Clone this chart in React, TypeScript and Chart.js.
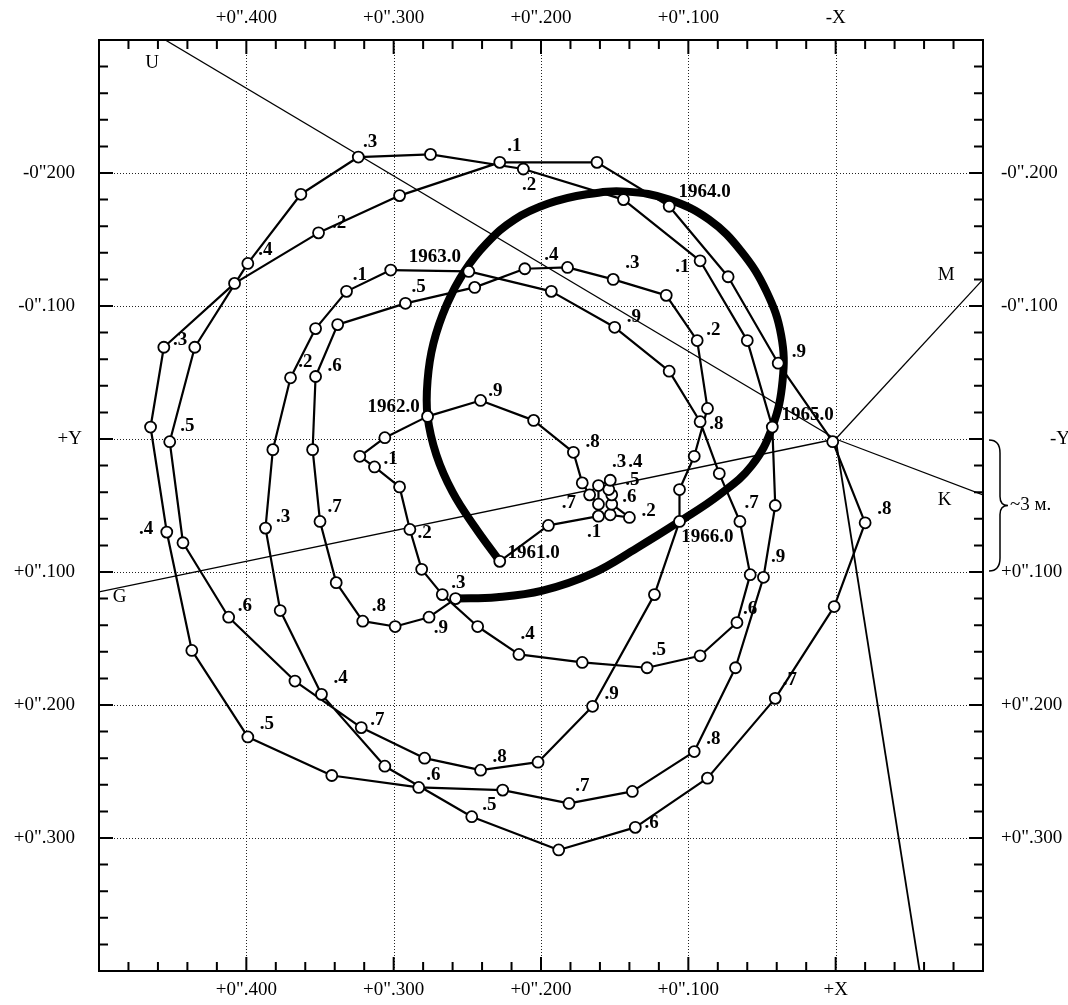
import React, { useEffect, useRef } from "react";
import { Chart, registerables } from "chart.js";

Chart.register(...registerables);

type P = [number, number];

// Pole path, one array per year (x, y in arcseconds), points about every 0.05 year
const track1961: P[] = [
  [0.228, 0.092], [0.195, 0.065], [0.161, 0.058], [0.153, 0.057], [0.140, 0.059], [0.152, 0.049],
  [0.152, 0.042], [0.154, 0.038], [0.153, 0.031], [0.161, 0.035], [0.161, 0.049], [0.167, 0.042],
  [0.172, 0.033], [0.178, 0.010], [0.205, -0.014], [0.241, -0.029],
];
const track1962: P[] = [
  [0.277, -0.017], [0.306, -0.001], [0.323, 0.013], [0.313, 0.021], [0.296, 0.036], [0.289, 0.068],
  [0.281, 0.098], [0.267, 0.117], [0.243, 0.141], [0.215, 0.162], [0.172, 0.168], [0.128, 0.172],
  [0.092, 0.163], [0.067, 0.138], [0.058, 0.102], [0.065, 0.062], [0.079, 0.026], [0.092, -0.013],
  [0.113, -0.051], [0.150, -0.084], [0.193, -0.111],
];
const track1963: P[] = [
  [0.249, -0.126], [0.302, -0.127], [0.332, -0.111], [0.353, -0.083], [0.370, -0.046], [0.382, 0.008],
  [0.387, 0.067], [0.377, 0.129], [0.349, 0.192], [0.306, 0.246], [0.247, 0.284], [0.188, 0.309],
  [0.136, 0.292], [0.087, 0.255], [0.041, 0.195], [0.001, 0.126], [-0.020, 0.063], [0.002, 0.002],
  [0.039, -0.057], [0.073, -0.122],
];
const track1964: P[] = [
  [0.113, -0.175], [0.162, -0.208], [0.228, -0.208], [0.296, -0.183], [0.351, -0.155], [0.408, -0.117],
  [0.456, -0.069], [0.465, -0.009], [0.454, 0.070], [0.437, 0.159], [0.399, 0.224], [0.342, 0.253],
  [0.283, 0.262], [0.226, 0.264], [0.181, 0.274], [0.138, 0.265], [0.096, 0.235], [0.068, 0.172],
  [0.049, 0.104], [0.041, 0.050],
];
const track1965: P[] = [
  [0.043, -0.009], [0.060, -0.074], [0.092, -0.134], [0.144, -0.180], [0.212, -0.203], [0.275, -0.214],
  [0.324, -0.212], [0.363, -0.184], [0.399, -0.132], [0.435, -0.069], [0.452, 0.002], [0.443, 0.078],
  [0.412, 0.134], [0.367, 0.182], [0.322, 0.217], [0.279, 0.240], [0.241, 0.249], [0.202, 0.243],
  [0.165, 0.201], [0.123, 0.117],
];
const track1966: P[] = [
  [0.106, 0.062], [0.106, 0.038], [0.096, 0.013], [0.087, -0.023], [0.094, -0.074], [0.115, -0.108],
  [0.151, -0.120], [0.182, -0.129], [0.211, -0.128], [0.245, -0.114], [0.292, -0.102], [0.338, -0.086],
  [0.353, -0.047], [0.355, 0.008], [0.350, 0.062], [0.339, 0.108], [0.321, 0.137], [0.299, 0.141],
  [0.276, 0.134], [0.258, 0.120],
];

// Smoothed (thick) curve through the yearly positions 1961.0 ... 1967.0
const thickCurve: P[] = [
  [0.228, 0.092], [0.245, 0.066], [0.260, 0.040], [0.271, 0.012], [0.277, -0.017], [0.277, -0.044],
  [0.273, -0.072], [0.264, -0.101], [0.252, -0.126], [0.237, -0.147], [0.218, -0.165], [0.195, -0.177],
  [0.169, -0.184], [0.142, -0.186], [0.113, -0.180], [0.086, -0.165], [0.064, -0.141], [0.047, -0.111],
  [0.037, -0.078], [0.036, -0.044], [0.043, -0.009], [0.057, 0.020], [0.079, 0.042], [0.106, 0.062],
  [0.135, 0.082], [0.165, 0.101], [0.199, 0.114], [0.230, 0.119], [0.258, 0.120],
];

// Station directions from the origin
const origin: P = [0, 0];
const lineU: P = [0.455, -0.3];
const lineM: P = [-0.1, -0.12];
const lineK: P = [-0.1, 0.042];
const lineG: P = [0.5, 0.115];
const lineC: P = [-0.057, 0.4];

// Axis ticks and labels
const xTicks = [0.4, 0.3, 0.2, 0.1, 0];
const xTopLabels = ['+0".400', '+0".300', '+0".200', '+0".100', "-X"];
const xBottomLabels = ['+0".400', '+0".300', '+0".200', '+0".100', "+X"];
const yTicks = [-0.2, -0.1, 0, 0.1, 0.2, 0.3];
const yLeftLabels = ['-0"200', '-0".100', "+Y", '+0".100', '+0".200', '+0".300'];
const yRightLabels = ['-0".200', '-0".100', "-Y", '+0".100', '+0".200', '+0".300'];

// Epoch labels: text, x, y (label centre in arcseconds)
const pointLabels: [string, number, number][] = [
  ["1961.0", 0.205, 0.086], [".1", 0.164, 0.07], [".2", 0.127, 0.054], [".3", 0.147, 0.017], [".4", 0.136, 0.017],
  [".5", 0.138, 0.031], [".6", 0.14, 0.044], [".7", 0.181, 0.048], [".8", 0.165, 0.002], [".9", 0.231, -0.036],
  ["1962.0", 0.3, -0.024], [".1", 0.302, 0.015], [".2", 0.279, 0.071], [".3", 0.256, 0.108], [".4", 0.209, 0.147],
  [".5", 0.12, 0.159], [".6", 0.058, 0.128], [".7", 0.057, 0.048], [".8", 0.081, -0.011], [".9", 0.137, -0.092],
  ["1963.0", 0.272, -0.137], [".1", 0.323, -0.123], [".2", 0.36, -0.058], [".3", 0.375, 0.059], [".4", 0.336, 0.18],
  [".5", 0.235, 0.275], [".6", 0.125, 0.289], [".7", 0.031, 0.181], [".8", -0.033, 0.053], [".9", 0.025, -0.065],
  ["1964.0", 0.089, -0.186], [".1", 0.218, -0.22], [".2", 0.337, -0.162], [".3", 0.445, -0.074], [".4", 0.468, 0.068],
  [".5", 0.386, 0.214], [".6", 0.273, 0.253], [".7", 0.172, 0.261], [".8", 0.083, 0.226], [".9", 0.039, 0.089],
  ["1965.0", 0.019, -0.018], [".1", 0.104, -0.129], [".2", 0.208, -0.191], [".3", 0.316, -0.223], [".4", 0.387, -0.142],
  [".5", 0.44, -0.01], [".6", 0.401, 0.126], [".7", 0.311, 0.211], [".8", 0.228, 0.239], [".9", 0.152, 0.192],
  ["1966.0", 0.087, 0.074], [".2", 0.083, -0.082], [".3", 0.138, -0.132], [".4", 0.193, -0.138], [".5", 0.283, -0.114],
  [".6", 0.34, -0.055], [".7", 0.34, 0.051], [".8", 0.31, 0.126], [".9", 0.268, 0.142],
];
const stationLabels: [string, number, number][] = [
  ["U", 0.464, -0.283], ["M", -0.075, -0.123], ["K", -0.074, 0.046], ["G", 0.486, 0.119],
];
const braceText = "~3 м.";

const toXY = (pts: P[]) => pts.map(([x, y]) => ({ x, y }));

const SERIF = '"Liberation Serif", "Times New Roman", serif';

const framePlugin = {
  id: "framePlugin",
  beforeDatasetsDraw(chart: any) {
    const { ctx, chartArea: a, scales } = chart;
    const xs = scales.x;
    const ys = scales.y;
    ctx.save();
    ctx.strokeStyle = "#222";
    ctx.lineWidth = 1;
    ctx.setLineDash([1, 2]);
    for (const v of xTicks) {
      const px = Math.round(xs.getPixelForValue(v)) + 0.5;
      ctx.beginPath();
      ctx.moveTo(px, a.top);
      ctx.lineTo(px, a.bottom);
      ctx.stroke();
    }
    for (const v of yTicks) {
      const py = Math.round(ys.getPixelForValue(v)) + 0.5;
      ctx.beginPath();
      ctx.moveTo(a.left, py);
      ctx.lineTo(a.right, py);
      ctx.stroke();
    }
    ctx.restore();
  },
  afterDatasetsDraw(chart: any) {
    const { ctx, chartArea: a, scales } = chart;
    const xs = scales.x;
    const ys = scales.y;
    ctx.save();
    ctx.strokeStyle = "#000";
    ctx.lineWidth = 2;
    ctx.setLineDash([]);
    ctx.strokeRect(a.left, a.top, a.right - a.left, a.bottom - a.top);
    const minor = 9;
    const major = 14;
    for (let k = Math.round(xs.min / 0.02) + 1; k < Math.round(xs.max / 0.02); k++) {
      const len = k % 5 === 0 ? major : minor;
      const px = xs.getPixelForValue(k * 0.02);
      ctx.beginPath();
      ctx.moveTo(px, a.top);
      ctx.lineTo(px, a.top + len);
      ctx.moveTo(px, a.bottom);
      ctx.lineTo(px, a.bottom - len);
      ctx.stroke();
    }
    for (let k = Math.round(ys.min / 0.02) + 1; k < Math.round(ys.max / 0.02); k++) {
      const len = k % 5 === 0 ? major : minor;
      const py = ys.getPixelForValue(k * 0.02);
      ctx.beginPath();
      ctx.moveTo(a.left, py);
      ctx.lineTo(a.left + len, py);
      ctx.moveTo(a.right, py);
      ctx.lineTo(a.right - len, py);
      ctx.stroke();
    }

    // axis labels
    ctx.fillStyle = "#000";
    ctx.font = `19px ${SERIF}`;
    ctx.textBaseline = "middle";
    ctx.textAlign = "center";
    xTicks.forEach((v, i) => {
      const px = xs.getPixelForValue(v);
      ctx.fillText(xTopLabels[i], px, a.top - 22);
      ctx.fillText(xBottomLabels[i], px, a.bottom + 19);
    });
    yTicks.forEach((v, i) => {
      const py = ys.getPixelForValue(v);
      ctx.textAlign = "right";
      ctx.fillText(yLeftLabels[i], v === 0 ? a.left - 17 : a.left - 24, py);
      ctx.textAlign = "left";
      ctx.fillText(yRightLabels[i], v === 0 ? a.right + 67 : a.right + 18, py);
    });

    // brace between 0 and +0.100 on the right
    const y0 = ys.getPixelForValue(0);
    const y1 = ys.getPixelForValue(0.1);
    const mid = (y0 + y1) / 2;
    const x0 = a.right + 6;
    const x1 = a.right + 17;
    const tip = a.right + 25;
    ctx.lineWidth = 1.5;
    ctx.beginPath();
    ctx.moveTo(x0, y0 + 1);
    ctx.quadraticCurveTo(x1, y0 + 1, x1, y0 + 14);
    ctx.lineTo(x1, mid - 9);
    ctx.quadraticCurveTo(x1, mid, tip, mid);
    ctx.quadraticCurveTo(x1, mid, x1, mid + 9);
    ctx.lineTo(x1, y1 - 14);
    ctx.quadraticCurveTo(x1, y1 - 1, x0, y1 - 1);
    ctx.stroke();
    ctx.font = `19px ${SERIF}`;
    ctx.textAlign = "left";
    ctx.fillText(braceText, tip + 2, mid);

    // station letters
    ctx.font = `19px ${SERIF}`;
    ctx.textAlign = "center";
    for (const [t, x, y] of stationLabels) {
      ctx.fillText(t, xs.getPixelForValue(x), ys.getPixelForValue(y));
    }
    // epoch labels
    ctx.font = `bold 19px ${SERIF}`;
    for (const [t, x, y] of pointLabels) {
      ctx.fillText(t, xs.getPixelForValue(x), ys.getPixelForValue(y));
    }
    ctx.restore();
  },
};

const refLine = (end: P) => ({
  data: toXY([origin, end]),
  showLine: true,
  borderColor: "#000",
  borderWidth: 1.3,
  pointRadius: 0,
  order: 3,
});

export default function App() {
  const ref = useRef<HTMLCanvasElement>(null);
  useEffect(() => {
    if (!ref.current) return;
    const track = [...track1961, ...track1962, ...track1963, ...track1964, ...track1965, ...track1966];
    const chart = new Chart(ref.current, {
      type: "scatter",
      data: {
        datasets: [
          {
            data: toXY(track),
            showLine: true,
            borderColor: "#000",
            borderWidth: 2.2,
            borderJoinStyle: "round",
            pointRadius: 5.5,
            pointBackgroundColor: "#fff",
            pointBorderColor: "#000",
            pointBorderWidth: 1.8,
            order: 0,
          } as any,
          {
            data: toXY(thickCurve),
            showLine: true,
            borderColor: "#000",
            borderWidth: 8,
            tension: 0.4,
            borderCapStyle: "round",
            borderJoinStyle: "round",
            pointRadius: 0,
            order: 1,
          } as any,
          refLine(lineU),
          refLine(lineM),
          refLine(lineK),
          refLine(lineG),
          { ...refLine(lineC), borderWidth: 1.8 },
        ],
      },
      options: {
        animation: false,
        responsive: false,
        maintainAspectRatio: false,
        devicePixelRatio: 1,
        events: [],
        layout: { padding: { left: 99, right: 85, top: 40, bottom: 34 } },
        scales: {
          x: { type: "linear", display: false, min: -0.1, max: 0.5, reverse: true },
          y: { type: "linear", display: false, min: -0.3, max: 0.4, reverse: true },
        },
        plugins: { legend: { display: false }, tooltip: { enabled: false } },
      },
      plugins: [framePlugin],
    });
    return () => chart.destroy();
  }, []);
  return (
    <div style={{ position: "absolute", left: 0, top: 0, width: 1068, height: 1005, background: "#fff" }}>
      <canvas ref={ref} width={1068} height={1005} style={{ display: "block", width: 1068, height: 1005 }} />
    </div>
  );
}
